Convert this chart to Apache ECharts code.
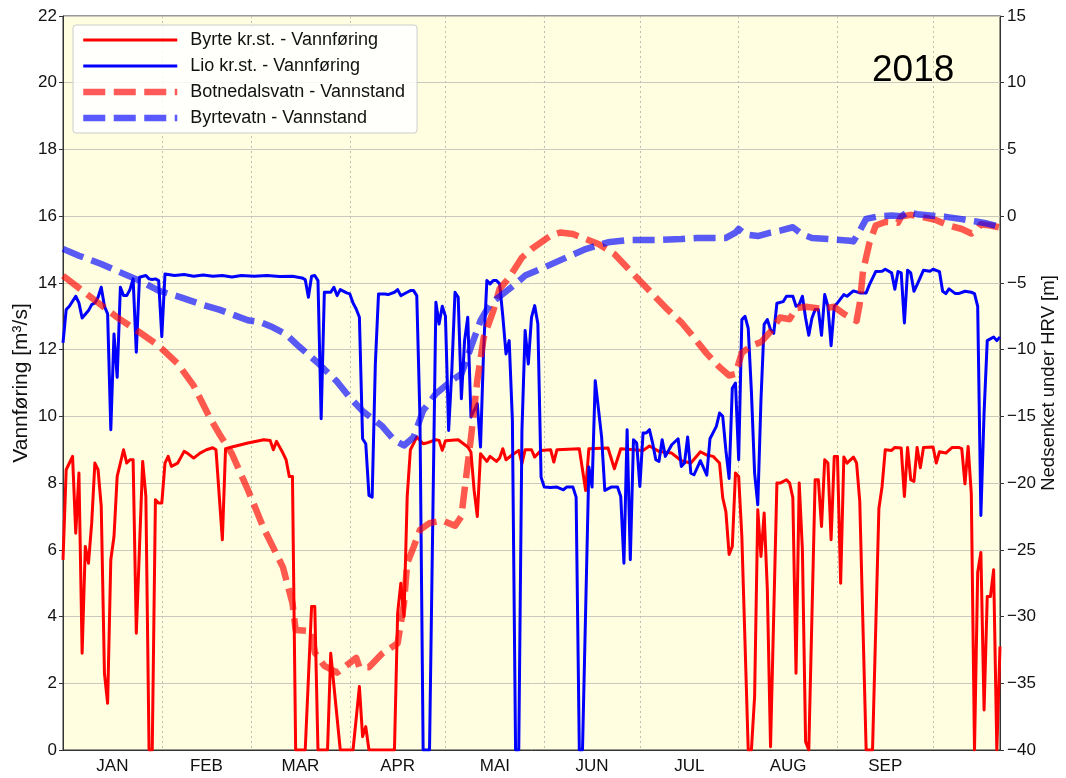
<!DOCTYPE html>
<html><head><meta charset="utf-8">
<script src="https://cdn.jsdelivr.net/npm/echarts@6.0.0/dist/echarts.min.js"></script>
<style>html,body{margin:0;padding:0;background:#fff}#chart{width:1066px;height:778px}</style>
</head><body><div id="chart"></div>
<script>
// ---- data (x = day of year, 0 = 1 Jan 2018) ----
const months = ['JAN','FEB','MAR','APR','MAI','JUN','JUL','AUG','SEP'];
const monthStarts = [0,31,59,90,120,151,181,212,243,273];
const lastDay = 294;
const yearLabel = '2018';
const flowTicks = {min:0, max:22, step:2};
const levelTicks = {min:-40, max:15, step:5};

const byrteFlow = [[0,5.7],[1,8.4],[3,8.8],[4,6.5],[5,8.3],[6,2.9],[7,6.1],[8,5.6],[9,6.8],[10,8.6],[11,8.4],[12,7.3],[13,2.3],[14,1.4],[15,5.7],[16,6.4],[17,8.2],[19,9.0],[20,8.6],[21,8.7],[22,8.7],[23,3.5],[25,8.65],[26,7.6],[27,0],[28,0],[29,7.5],[30,7.4],[31,7.4],[32,8.6],[33,8.8],[34,8.5],[36,8.6],[38,8.95],[39,8.9],[41,8.75],[43,8.9],[45,9.0],[47,9.06],[48,9.0],[50,6.3],[51,9.03],[53,9.08],[58,9.2],[63,9.3],[65,9.28],[66,9.0],[67,9.25],[69,8.9],[70,8.7],[71,8.2],[72,8.2],[73,0],[76,0],[78,4.3],[79,4.3],[80,0],[83,0],[84,2.9],[87,0],[91,0],[93,1.9],[94,0.4],[95,0.7],[96,0],[104,0],[105,4.1],[106,5.0],[107,4.0],[108,7.6],[109,9.0],[111,9.38],[113,9.18],[114,9.2],[117,9.3],[118,9.28],[119,8.98],[120,9.27],[124,9.3],[127,9.08],[128,8.93],[129,7.78],[130,7.0],[131,8.88],[133,8.65],[134,8.8],[136,8.65],[137,8.75],[138,9.03],[139,8.7],[141,8.85],[143,8.98],[144,8.58],[145,9.0],[147,9.0],[148,8.78],[150,8.98],[153,9.0],[154,8.63],[155,9.0],[162,9.03],[164,7.78],[165,9.03],[171,9.05],[173,8.43],[175,9.03],[179,9.0],[182,8.98],[184,9.11],[187,8.95],[191,8.9],[194,8.67],[197,8.6],[200,8.94],[202,8.84],[204,8.8],[205,8.7],[206,8.6],[207,7.56],[208,7.14],[209,5.86],[210,6.1],[211,8.3],[212,8.2],[213,6.4],[215,0],[216,0],[217,1.6],[218,7.2],[219,5.8],[220,7.1],[221,4.8],[222,0.1],[224,8.0],[225,8.0],[227,8.1],[228,8.0],[229,7.56],[230,2.3],[231,8.0],[232,6.0],[233,0.25],[234,0],[236,8.1],[237,8.1],[238,6.7],[239,8.7],[240,8.6],[241,6.3],[242,8.8],[243,8.8],[244,5.0],[245,8.78],[246,8.6],[248,8.78],[249,8.6],[250,7.45],[252,0],[254,0],[256,7.24],[257,7.9],[258,9.0],[260,8.98],[261,9.07],[263,9.05],[264,7.6],[265,9.07],[266,8.1],[267,8.05],[268,9.07],[269,8.46],[270,9.07],[273,9.08],[274,8.6],[275,8.94],[277,8.9],[279,9.07],[281,9.07],[282,9.03],[283,7.98],[284,9.1],[285,7.67],[286,0],[287,5.33],[288,5.92],[289,1.2],[290,4.6],[291,4.6],[292,5.4],[293,0],[294,3.1]];

const lioFlow = [[0,12.2],[1,13.2],[2,13.3],[4,13.6],[5,13.4],[6,12.95],[8,13.17],[9,13.35],[10,13.4],[11,13.57],[12,13.87],[13,13.3],[14,13.07],[15,9.6],[16,12.47],[17,11.17],[18,13.87],[19,13.62],[20,13.62],[21,13.8],[22,14.12],[23,11.92],[24,14.17],[26,14.22],[27,14.12],[28,14.1],[29,14.12],[30,14.07],[31,12.39],[32,14.27],[35,14.22],[38,14.25],[41,14.2],[44,14.24],[47,14.2],[50,14.22],[53,14.18],[56,14.22],[60,14.2],[64,14.22],[68,14.19],[72,14.2],[75,14.15],[76,14.1],[77,13.57],[78,14.2],[79,14.22],[80,14.07],[81,9.93],[82,13.72],[84,13.72],[85,13.87],[86,13.62],[87,13.8],[89,13.7],[90,13.67],[91,13.4],[92,13.22],[93,12.97],[94,9.33],[95,9.18],[96,7.63],[97,7.58],[98,11.57],[99,13.67],[101,13.67],[102,13.65],[104,13.72],[105,13.8],[106,13.62],[108,13.72],[109,13.77],[110,13.77],[111,13.62],[112,9.98],[113,0],[115,0],[117,13.42],[118,12.77],[119,13.3],[120,13.0],[121,9.58],[122,11.37],[123,13.72],[124,13.57],[125,10.53],[126,12.27],[127,12.97],[128,9.98],[130,10.38],[131,9.08],[132,12.07],[133,14.07],[134,13.97],[135,14.07],[136,14.07],[137,13.97],[138,13.0],[139,11.87],[140,12.27],[141,9.9],[142,0],[143,0],[144,9.58],[145,12.57],[146,11.57],[147,12.97],[148,13.32],[149,12.77],[150,8.18],[151,7.88],[153,7.87],[155,7.88],[157,7.8],[158,7.88],[160,7.88],[161,7.58],[162,0],[163,0],[165,8.48],[166,7.88],[167,11.07],[169,9.38],[170,7.78],[172,7.88],[174,7.88],[175,7.6],[176,5.6],[177,9.6],[178,5.7],[179,9.3],[180,9.2],[181,7.9],[182,9.5],[183,9.5],[184,9.6],[185,9.2],[186,8.7],[187,8.65],[188,9.3],[189,8.8],[191,9.15],[193,9.33],[194,8.5],[195,8.6],[196,9.38],[197,8.3],[198,8.25],[200,8.67],[202,8.24],[203,9.33],[205,9.7],[206,10.1],[207,10.0],[208,8.97],[209,8.14],[210,10.84],[211,11.0],[212,8.7],[213,12.9],[214,13.0],[215,12.64],[216,10.74],[217,8.3],[218,7.35],[219,10.5],[220,12.76],[221,12.9],[222,12.6],[223,12.49],[224,13.39],[226,13.44],[227,13.6],[229,13.6],[230,13.3],[231,13.35],[232,13.6],[233,12.95],[234,12.43],[235,12.95],[236,13.2],[237,13.2],[238,12.43],[239,13.65],[240,13.3],[241,12.12],[242,13.3],[243,13.4],[245,13.65],[246,13.6],[248,13.76],[250,13.7],[252,13.7],[253,13.94],[255,14.34],[257,14.35],[258,14.41],[260,14.3],[261,13.81],[262,14.34],[263,14.3],[264,12.8],[265,14.38],[266,14.3],[267,13.75],[268,13.95],[270,14.38],[272,14.35],[273,14.41],[275,14.34],[276,13.75],[277,13.68],[278,13.82],[280,13.68],[281,13.68],[283,13.75],[285,13.72],[286,13.68],[287,13.3],[288,7.03],[289,10.1],[290,12.27],[292,12.38],[293,12.27],[294,12.38]];

const botnLevel = [[0,-4.46],[10,-6.3],[17,-7.58],[24,-8.7],[30,-9.7],[36,-11.06],[41,-12.7],[46,-15.06],[49,-16.3],[53,-17.8],[58,-20.5],[63,-23.4],[69,-26.3],[72,-29.0],[73,-31.0],[78,-31.1],[79,-32.7],[82,-33.7],[86,-34.2],[92,-33.1],[93,-33.8],[96,-33.8],[100,-32.8],[105,-32.0],[107,-29.0],[108,-26.0],[110,-24.8],[112,-23.5],[115,-23.0],[119,-22.8],[123,-23.2],[125,-22.5],[126,-20.5],[128,-16.6],[130,-12.3],[132,-9.1],[135,-7.1],[137,-5.45],[140,-4.6],[144,-3.1],[147,-2.46],[153,-1.46],[156,-1.22],[160,-1.34],[164,-1.71],[168,-2.09],[173,-2.84],[177,-3.84],[181,-4.83],[185,-5.83],[189,-6.83],[194,-7.95],[198,-9.1],[202,-10.3],[206,-11.31],[209,-11.94],[211,-11.83],[213,-10.24],[216,-9.71],[219,-9.44],[222,-8.65],[225,-7.59],[228,-7.72],[230,-6.9],[233,-6.79],[238,-6.93],[242,-6.79],[245,-7.32],[249,-7.85],[250,-6.53],[251,-4.14],[253,-2.03],[255,-0.7],[258,-0.43],[262,-0.49],[263,-0.03],[266,0.1],[269,-0.03],[274,-0.3],[278,-0.7],[282,-0.96],[285,-1.3],[287,-0.96],[288,-0.6],[291,-0.7],[294,-0.85]];

const byrtLevel = [[0,-2.45],[5,-2.96],[12,-3.58],[18,-4.21],[24,-4.83],[30,-5.58],[37,-6.08],[43,-6.58],[49,-7.0],[58,-7.8],[62,-7.95],[66,-8.35],[70,-8.85],[74,-9.75],[80,-11.0],[86,-12.4],[90,-13.6],[94,-14.6],[100,-15.7],[104,-16.8],[107,-17.18],[110,-16.56],[113,-14.56],[117,-13.31],[122,-12.31],[125,-11.81],[128,-9.82],[131,-7.82],[134,-6.58],[138,-5.83],[142,-5.08],[145,-4.45],[151,-3.84],[158,-3.09],[164,-2.46],[171,-1.96],[178,-1.78],[187,-1.78],[194,-1.71],[199,-1.63],[208,-1.63],[211,-1.23],[212,-0.96],[214,-1.36],[218,-1.49],[222,-1.23],[225,-1.09],[229,-0.83],[232,-1.36],[235,-1.63],[240,-1.71],[247,-1.84],[248,-1.89],[250,-1.09],[252,-0.2],[256,0.0],[260,0.05],[263,0.0],[265,0.3],[268,0.15],[272,0.05],[277,-0.05],[282,-0.22],[286,-0.38],[290,-0.55],[294,-0.8]];

const seriesNames = ['Byrte kr.st. - Vannføring','Lio kr.st. - Vannføring','Botnedalsvatn - Vannstand','Byrtevatn - Vannstand'];

// ---- chart ----
const labelDays = months.map((m,i) => (monthStarts[i] + monthStarts[i+1]) / 2);
const FONT = "'Liberation Sans', Arial, sans-serif";
const DASH = [22, 8.5];
const styles = [
  {color:'#ff0000', width:3, type:'solid', axis:0},
  {color:'#0000ff', width:3, type:'solid', axis:0},
  {color:'rgba(255,0,0,0.65)', width:6.5, type:DASH, axis:1},
  {color:'rgba(0,0,255,0.65)', width:6.5, type:DASH, axis:1}
];
const datasets = [byrteFlow, lioFlow, botnLevel, byrtLevel];
const chart = echarts.init(document.getElementById('chart'), null, {renderer:'canvas'});
chart.setOption({
  animation:false,
  backgroundColor:'#ffffff',
  textStyle:{fontFamily:FONT},
  grid:{left:63, right:66, top:16, bottom:28, show:true, backgroundColor:'#fffee0', borderColor:'#333', borderWidth:1,
        containLabel:false, outerBoundsMode:'none'},
  legend:{
    orient:'vertical', left:73, top:25, padding:[6,12,6,7], itemGap:8, itemWidth:94, itemHeight:14,
    backgroundColor:'rgba(255,255,255,0.85)', borderColor:'#cccccc', borderWidth:1, borderRadius:3,
    textStyle:{fontFamily:FONT, fontSize:18, color:'#111', padding:[0,0,0,8]},
    data: seriesNames.map((n,i) => ({name:n, itemStyle:{opacity:0},
      lineStyle:{color:styles[i].color, width:styles[i].width, type:styles[i].type, cap:'butt'}}))
  },
  graphic:[{type:'text', left:872, top:52, style:{text:yearLabel, fontSize:37, fontFamily:FONT, fill:'#000'}}],
  xAxis:{
    type:'value', min:0, max:lastDay,
    axisLine:{show:true, onZero:false, lineStyle:{color:'#333', width:1}},
    axisTick:{show:false, customValues: monthStarts.slice(1)},
    splitLine:{show:true, lineStyle:{color:'#bdbdb0', type:[2,3], width:1}},
    axisLabel:{customValues: labelDays, fontSize:17, color:'#111', margin:8, fontFamily:FONT,
      formatter: v => { let b=0, d=1e9; labelDays.forEach((x,i)=>{ if (Math.abs(x-v)<d){d=Math.abs(x-v); b=i;} }); return months[b]; }}
  },
  yAxis:[{
    type:'value', position:'left', min:flowTicks.min, max:flowTicks.max, interval:flowTicks.step,
    name:'Vannføring [m³/s]', nameLocation:'middle', nameGap:31, nameRotate:90, nameMoveOverlap:false,
    nameTextStyle:{fontSize:21, color:'#111', fontFamily:FONT},
    axisLine:{show:true, onZero:false, lineStyle:{color:'#333'}},
    axisTick:{show:true, length:4, lineStyle:{color:'#333'}},
    axisLabel:{fontSize:17, color:'#111', margin:6, fontFamily:FONT},
    splitLine:{show:true, lineStyle:{color:'#c9c9bd', width:1}}
  },{
    type:'value', position:'right', min:levelTicks.min, max:levelTicks.max, interval:levelTicks.step,
    name:'Nedsenket under HRV [m]', nameLocation:'middle', nameGap:39, nameRotate:90, nameMoveOverlap:false,
    nameTextStyle:{fontSize:18.5, color:'#111', fontFamily:FONT},
    axisLine:{show:true, onZero:false, lineStyle:{color:'#333'}},
    axisTick:{show:true, length:4, lineStyle:{color:'#333'}},
    axisLabel:{fontSize:17, color:'#111', margin:7, fontFamily:FONT, formatter: v => String(v).replace('-', '\u2212')},
    splitLine:{show:false}
  }],
  series: seriesNames.map((n,i) => ({
    name:n, type:'line', data:datasets[i], yAxisIndex:styles[i].axis, showSymbol:false, symbol:'none',
    lineStyle:{color:styles[i].color, width:styles[i].width, type:styles[i].type, cap:'butt', join:'round'},
    itemStyle:{color:styles[i].color}, z:3+i, animation:false
  }))
});
</script></body></html>
